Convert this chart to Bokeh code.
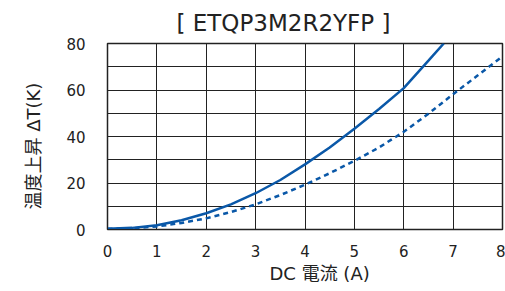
from bokeh.plotting import figure
from bokeh.models import FixedTicker, SingleIntervalTicker, Range1d, Title
from bokeh.embed import file_html
from bokeh.resources import INLINE

title_text = "[ ETQP3M2R2YFP ]"
x_label = "DC 電流 (A)"
y_label = "温度上昇 ΔT(K)"

solid_x = [0, 0.5, 1, 1.5, 2, 2.5, 3, 3.5, 4, 4.5, 5, 5.5, 6, 6.5, 6.81]
solid_y = [0.3, 0.7, 1.8, 4.0, 7.0, 10.8, 15.6, 21.3, 28.0, 35.3, 43.3, 51.8, 60.8, 72.6, 80.0]

dash_x = [0, 0.5, 1, 1.5, 2, 2.5, 3, 3.5, 4, 4.5, 5, 5.5, 6, 6.5, 7, 7.5, 8]
dash_y = [0.3, 0.5, 1.3, 2.8, 4.8, 7.5, 10.8, 14.8, 19.3, 24.2, 29.5, 35.3, 42.0, 49.8, 58.2, 66.3, 74.5]

x_ticks = [0, 1, 2, 3, 4, 5, 6, 7, 8]
y_ticks = [0, 20, 40, 60, 80]

FONT = "DejaVu Sans, Noto Sans CJK JP"
BLUE = "#0a58a8"
TXT = "#222222"

p = figure(width=505, height=291, output_backend="svg", toolbar_location=None,
           x_range=Range1d(0, 8), y_range=Range1d(0, 80),
           min_border_left=106, min_border_right=3, min_border_top=42, min_border_bottom=62)

p.title.text = title_text
p.title.align = "left"
p.title.offset = 69
p.title.standoff = 15
p.title.text_font = FONT
p.title.text_font_size = "23px"
p.title.text_font_style = "normal"
p.title.text_color = TXT

p.line(solid_x, solid_y, line_color=BLUE, line_width=2.5)
p.line(dash_x, dash_y, line_color=BLUE, line_width=2.5, line_dash="5 4")

p.xaxis.ticker = FixedTicker(ticks=x_ticks)
p.yaxis.ticker = FixedTicker(ticks=y_ticks)
p.ygrid[0].ticker = SingleIntervalTicker(interval=10)
p.xgrid[0].ticker = FixedTicker(ticks=x_ticks)

for g in (p.xgrid[0], p.ygrid[0]):
    g.grid_line_color = TXT
    g.grid_line_width = 1
    g.grid_line_alpha = 1

for ax in (p.xaxis[0], p.yaxis[0]):
    ax.major_tick_line_color = None
    ax.minor_tick_line_color = None
    ax.axis_line_color = TXT
    ax.major_label_text_font = FONT
    ax.major_label_text_font_size = "15px"
    ax.major_label_text_color = TXT

p.xaxis.major_label_standoff = 9
p.yaxis.major_label_standoff = 16

# axis titles as side titles (they sit off-centre in the reference)
xt = Title(text=x_label, align="left", offset=162, text_font=FONT, text_font_size="18px",
           text_font_style="normal", text_color=TXT, standoff=2)
yt = Title(text=y_label, align="left", offset=20, text_font=FONT, text_font_size="18px",
           text_font_style="normal", text_color=TXT, standoff=40)
p.add_layout(xt, "below")
p.add_layout(yt, "left")

p.outline_line_color = TXT
p.outline_line_width = 1.5
p.background_fill_color = "white"
p.border_fill_color = "white"

open("out.html", "w").write(file_html(p, INLINE))
